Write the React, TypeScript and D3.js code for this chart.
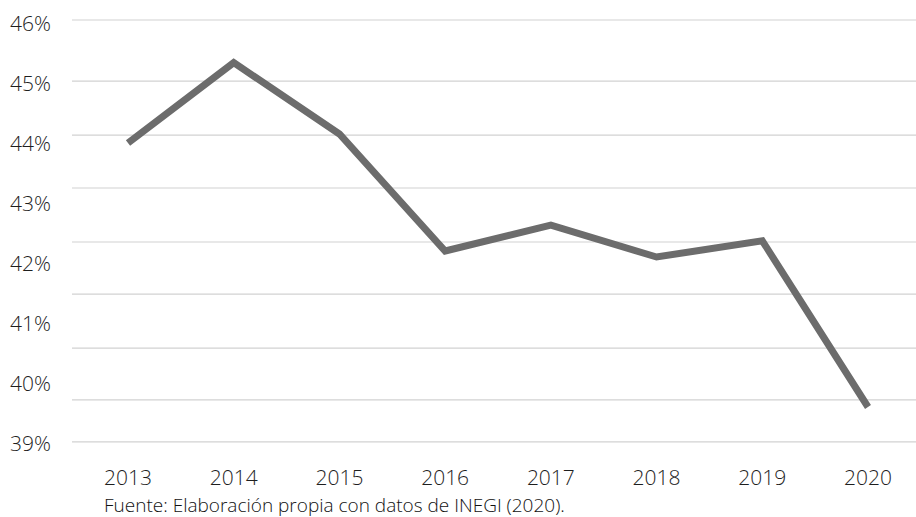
import React from "react";
import * as d3 from "d3";

const years = ["2013", "2014", "2015", "2016", "2017", "2018", "2019", "2020"];
const values = [44.0, 45.34, 44.15, 42.2, 42.63, 42.1, 42.37, 39.6];
const yTicks = [39, 40, 41, 42, 43, 44, 45, 46];
const gridValues = [46.05, 45.03, 44.13, 43.25, 42.35, 41.48, 40.58, 39.72, 39.02];
const source = "Fuente: Elaboración propia con datos de INEGI (2020).";

const W = 916;
const H = 517;

export default function App() {
  const x = d3.scalePoint<string>().domain(years).range([128, 868]);
  const y = d3.scaleLinear().domain([39, 46]).range([443, 23]);
  const line = d3
    .line<number>()
    .x((_, i) => x(years[i]) as number)
    .y((d) => y(d));

  const font = "'Open Sans', 'Noto Sans', sans-serif";

  return (
    <svg
      width={W}
      height={H}
      style={{ position: "absolute", left: 0, top: 0, background: "#fff" }}
    >
      <g>
        {gridValues.map((g, i) => (
          <line
            key={i}
            x1={72}
            x2={W}
            y1={y(g)}
            y2={y(g)}
            stroke="#d2d2d2"
            strokeWidth={1.2}
          />
        ))}
      </g>
      <g>
        {yTicks.map((t) => (
          <text
            key={t}
            x={51}
            y={y(t)}
            dy="0.36em"
            textAnchor="end"
            fontFamily={font}
            fontWeight={300}
            fontSize={21}
            fill="#1e1e1e"
          >
            {t}%
          </text>
        ))}
      </g>
      <g>
        {years.map((yr) => (
          <text
            key={yr}
            x={x(yr) as number}
            y={477}
            dy="0.36em"
            textAnchor="middle"
            fontFamily={font}
            fontWeight={300}
            fontSize={21}
            fill="#1e1e1e"
          >
            {yr}
          </text>
        ))}
      </g>
      <path
        d={line(values) || ""}
        fill="none"
        stroke="#6c6c6c"
        strokeWidth={7}
        strokeLinejoin="miter"
      />
      <text
        x={104}
        y={505}
        dy="0.36em"
        fontFamily={font}
        fontWeight={300}
        fontSize={19}
        fill="#111"
      >
        {source}
      </text>
    </svg>
  );
}
